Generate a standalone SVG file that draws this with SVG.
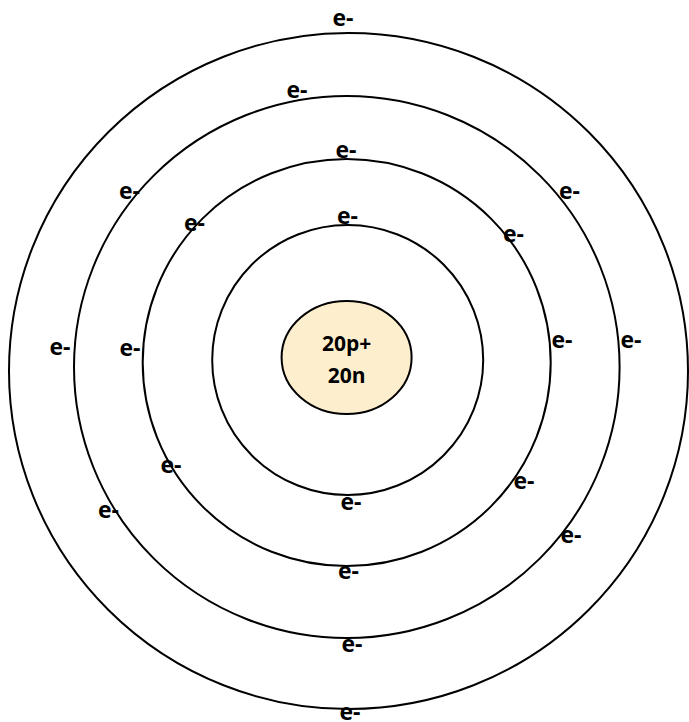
<svg xmlns="http://www.w3.org/2000/svg" width="689" height="722" viewBox="0 0 689 722">
<style>
.shell{fill:none;stroke:#000;stroke-width:2}
.e{font-family:"Open Sans","Liberation Sans",sans-serif;font-weight:bold;font-size:23px;fill:#000;text-anchor:middle}
.nt{font-family:"Open Sans","Liberation Sans",sans-serif;font-weight:bold;font-size:21px;fill:#000;text-anchor:middle}
</style>
<rect width="689" height="722" fill="#fff"/>
<g id="shell4"><ellipse class="shell" cx="348.5" cy="371" rx="339.5" ry="338"/></g>
<g id="shell3"><ellipse class="shell" cx="346.8" cy="367" rx="272.8" ry="271"/></g>
<g id="shell2"><ellipse class="shell" cx="346.7" cy="362.5" rx="204" ry="203.5"/></g>
<g id="shell1"><ellipse class="shell" cx="347.7" cy="360" rx="135.5" ry="135"/></g>
<g id="nucleus">
<ellipse cx="346.6" cy="357.5" rx="65" ry="56.5" fill="#fdefcd" stroke="#000" stroke-width="2"/>
<text class="nt" x="346.6" y="350.5">20p+</text>
<text class="nt" x="346.6" y="382.5">20n</text>
</g>
<g id="electrons">
<g id="e1"><text class="e" x="343" y="26">e-</text></g>
<g id="e2"><text class="e" x="297" y="98">e-</text></g>
<g id="e3"><text class="e" x="346" y="158">e-</text></g>
<g id="e4"><text class="e" x="347.5" y="224">e-</text></g>
<g id="e5"><text class="e" x="129.5" y="199">e-</text></g>
<g id="e6"><text class="e" x="194.5" y="231">e-</text></g>
<g id="e7"><text class="e" x="569.5" y="199">e-</text></g>
<g id="e8"><text class="e" x="513.5" y="242">e-</text></g>
<g id="e9"><text class="e" x="60" y="355">e-</text></g>
<g id="e10"><text class="e" x="130" y="356">e-</text></g>
<g id="e11"><text class="e" x="562" y="348">e-</text></g>
<g id="e12"><text class="e" x="631" y="348">e-</text></g>
<g id="e13"><text class="e" x="171" y="473">e-</text></g>
<g id="e14"><text class="e" x="108.5" y="518">e-</text></g>
<g id="e15"><text class="e" x="524" y="489">e-</text></g>
<g id="e16"><text class="e" x="571" y="543">e-</text></g>
<g id="e17"><text class="e" x="351" y="510">e-</text></g>
<g id="e18"><text class="e" x="348.5" y="579">e-</text></g>
<g id="e19"><text class="e" x="352" y="652">e-</text></g>
<g id="e20"><text class="e" x="350" y="720">e-</text></g>
</g>
</svg>
